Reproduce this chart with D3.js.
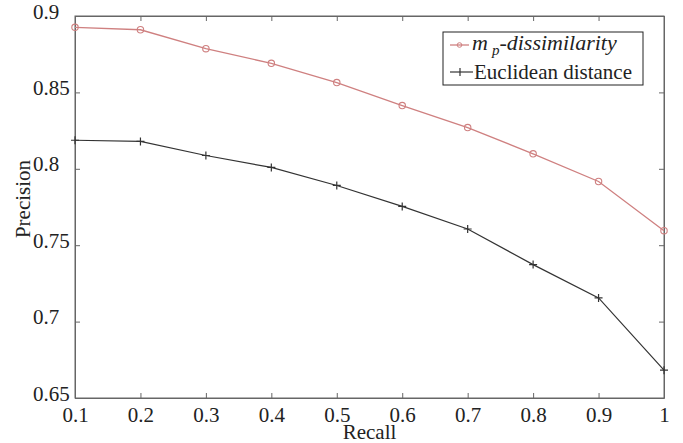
<!DOCTYPE html>
<html>
<head>
<meta charset="utf-8">
<script src="https://cdn.jsdelivr.net/npm/d3@7"></script>
<style>
  body { margin: 0; background: #fff; }
  svg text { font-family: "Liberation Serif", "DejaVu Serif", serif !important; fill: #222; }
</style>
</head>
<body>
<svg id="chart"></svg>
<script>
// recall levels on the x axis
const recall = [0.1, 0.2, 0.3, 0.4, 0.5, 0.6, 0.7, 0.8, 0.9, 1.0];
// precision for each method
const mpDissimilarity = [0.8926, 0.8910, 0.8786, 0.8690, 0.8564, 0.8414, 0.8270, 0.8098, 0.7917, 0.7595];
const euclidean = [0.8187, 0.8179, 0.8087, 0.8009, 0.7891, 0.7754, 0.7606, 0.7373, 0.7155, 0.6682];
const xTicks = [0.1, 0.2, 0.3, 0.4, 0.5, 0.6, 0.7, 0.8, 0.9, 1];
const yTicks = [0.65, 0.7, 0.75, 0.8, 0.85, 0.9];

const width = 683, height = 443;
const margin = {top: 16, right: 19, bottom: 45, left: 75};
const innerW = width - margin.left - margin.right;
const innerH = height - margin.top - margin.bottom;

const svg = d3.select('#chart')
    .attr('width', width)
    .attr('height', height);

const chart = svg.append('g')
    .attr('transform', `translate(${margin.left},${margin.top})`);

const xScale = d3.scaleLinear().domain([0.1, 1]).range([0, innerW]);
const yScale = d3.scaleLinear().domain([0.65, 0.9]).range([innerH, 0]);

// axes with inward ticks on all four sides
const tickLen = 5;
chart.append('g')
    .attr('font-family', null)
    .attr('transform', `translate(0,${innerH})`)
    .call(d3.axisBottom(xScale).tickValues(xTicks).tickSizeInner(-tickLen).tickSizeOuter(0)
      .tickPadding(9).tickFormat(d => d === 1 ? '1' : d3.format('.1f')(d)))
    .call(g => g.attr('font-family', null).selectAll('text').style('font-size', '21px').attr('fill', '#222'));

chart.append('g')
    .call(d3.axisTop(xScale).tickValues(xTicks).tickSizeInner(-tickLen).tickSizeOuter(0).tickFormat(''));

// y labels are left aligned in the original
chart.append('g')
    .call(d3.axisLeft(yScale).tickValues(yTicks).tickSizeInner(-tickLen).tickSizeOuter(0)
      .tickFormat(d => String(+d.toFixed(2))))
    .call(g => g.attr('font-family', null).selectAll('text')
      .style('font-size', '21px')
      .attr('fill', '#222')
      .attr('text-anchor', 'start')
      .attr('x', -42)
      .attr('dy', '0.1em'));

chart.append('g')
    .attr('transform', `translate(${innerW},0)`)
    .call(d3.axisRight(yScale).tickValues(yTicks).tickSizeInner(-tickLen).tickSizeOuter(0).tickFormat(''));

chart.selectAll('.domain').attr('stroke', '#666');
chart.selectAll('.tick line').attr('stroke', '#666');

// frame
chart.append('rect')
    .attr('width', innerW).attr('height', innerH)
    .attr('fill', 'none').attr('stroke', '#666');

// axis labels
svg.append('text')
    .attr('x', margin.left + innerW / 2)
    .attr('y', 439)
    .attr('text-anchor', 'middle')
    .style('font-size', '21px')
    .text('Recall');

svg.append('text')
    .attr('transform', `translate(30,${margin.top + innerH / 2 - 8}) rotate(-90)`)
    .attr('text-anchor', 'middle')
    .style('font-size', '21px')
    .text('Precision');

const line = d3.line().x((d, i) => xScale(recall[i])).y(d => yScale(d));

const redColor = '#cf8080';
const blackColor = '#333';

chart.append('path')
    .datum(mpDissimilarity)
    .attr('d', line)
    .attr('fill', 'none')
    .attr('stroke', redColor)
    .attr('stroke-width', 1.3);

chart.selectAll('.red-pt')
    .data(mpDissimilarity)
    .join('circle')
    .attr('class', 'red-pt')
    .attr('cx', (d, i) => xScale(recall[i]))
    .attr('cy', d => yScale(d))
    .attr('r', 3.2)
    .attr('fill', 'none')
    .attr('stroke', redColor)
    .attr('stroke-width', 1.1);

chart.append('path')
    .datum(euclidean)
    .attr('d', line)
    .attr('fill', 'none')
    .attr('stroke', blackColor)
    .attr('stroke-width', 1.2);

chart.selectAll('.black-pt')
    .data(euclidean)
    .join('path')
    .attr('class', 'black-pt')
    .attr('transform', (d, i) => `translate(${xScale(recall[i])},${yScale(d)})`)
    .attr('d', 'M-4,0H4M0,-4V4')
    .attr('stroke', blackColor)
    .attr('stroke-width', 1.2);

// legend
const legend = svg.append('g').attr('transform', 'translate(443,32)');
legend.append('rect')
    .attr('width', 200).attr('height', 53)
    .attr('fill', '#fff').attr('stroke', '#222');

legend.append('line')
    .attr('x1', 7).attr('x2', 26).attr('y1', 13).attr('y2', 13)
    .attr('stroke', redColor).attr('stroke-width', 1.3);
legend.append('circle')
    .attr('cx', 16.5).attr('cy', 13).attr('r', 2.3)
    .attr('fill', 'none').attr('stroke', redColor);

const t1 = legend.append('text')
    .attr('x', 29).attr('y', 18)
    .style('font-size', '22px')
    .style('font-style', 'italic');
t1.append('tspan').text('m');
t1.append('tspan').attr('dx', 4).attr('dy', 5).style('font-size', '15px').text('p');
t1.append('tspan').attr('dy', -5).text('-dissimilarity');

legend.append('line')
    .attr('x1', 7).attr('x2', 30).attr('y1', 40).attr('y2', 40)
    .attr('stroke', blackColor).attr('stroke-width', 1.2);
legend.append('path')
    .attr('d', 'M17,36V44')
    .attr('stroke', blackColor).attr('stroke-width', 1.2);

legend.append('text')
    .attr('x', 31).attr('y', 47)
    .style('font-size', '21px')
    .text('Euclidean distance');
</script>
</body>
</html>
